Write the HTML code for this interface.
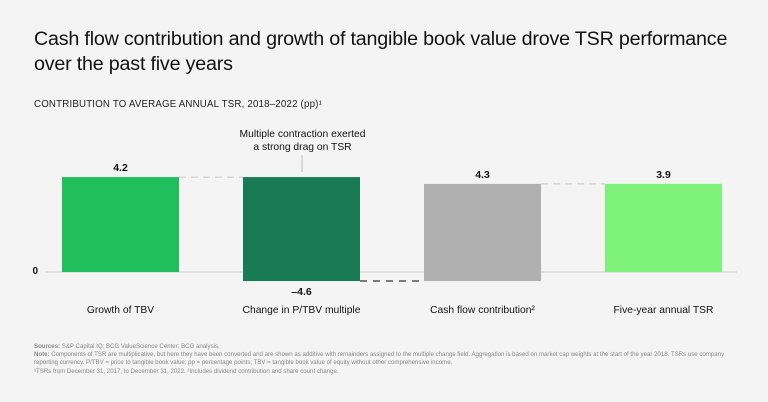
<!DOCTYPE html>
<html><head><meta charset="utf-8"><style>
body{margin:0;background:#f4f4f4;font-family:"Liberation Sans",sans-serif;}
#wrap{position:relative;width:768px;height:402px;overflow:hidden;background:#f4f4f4}
h1{position:absolute;left:34px;top:27px;margin:0;font-weight:normal;font-size:19.7px;line-height:25px;color:#111;letter-spacing:-0.2px}
.sub{position:absolute;left:34px;top:99px;font-size:9.7px;color:#222;letter-spacing:0.2px}
.notes{position:absolute;left:34px;top:343px;font-size:6.1px;line-height:8.2px;color:#888;width:720px}
</style></head><body>
<div id="wrap">
<h1>Cash flow contribution and growth of tangible book value drove TSR performance<br>over the past five years</h1>
<div class="sub">CONTRIBUTION TO AVERAGE ANNUAL TSR, 2018–2022 (pp)¹</div>
<svg id="chart" width="768" height="402" style="position:absolute;left:0;top:0"></svg>
<div class="notes"><b>Sources:</b> S&amp;P Capital IQ; BCG ValueScience Center; BCG analysis.<br><b>Note:</b> Components of TSR are multiplicative, but here they have been converted and are shown as additive with remainders assigned to the multiple change field. Aggregation is based on market cap weights at the start of the year 2018. TSRs use company<br>reporting currency. P/TBV = price to tangible book value; pp = percentage points; TBV = tangible book value of equity without other comprehensive income.<br>¹TSRs from December 31, 2017, to December 31, 2022. ²Includes dividend contribution and share count change.</div>
</div>
<script>
const categories=["Growth of TBV","Change in P/TBV multiple","Cash flow contribution²","Five-year annual TSR"];
const values=[4.2,-4.6,4.3,3.9];
const isTotal=[false,false,false,true];
const labels=["4.2","–4.6","4.3","3.9"];
const colors=["#21bf5b","#197a56","#b0b0b0","#7ef27a"];
const NS="http://www.w3.org/2000/svg";
const svg=document.getElementById('chart');
const zeroY=272, unit=22.6;
const y=v=>zeroY-v*unit;
const barX=i=>62+i*181, barW=117;
function mk(t,a){const e=document.createElementNS(NS,t);for(const k in a)e.setAttribute(k,a[k]);svg.appendChild(e);return e;}
let axis=mk('line',{x1:45,x2:737,y1:zeroY,y2:zeroY,stroke:'#cfcfcf','stroke-width':1});


let zl=mk('text',{x:38,y:zeroY+2,'font-size':10,'font-weight':'bold','text-anchor':'end',fill:'#111','font-family':'Liberation Sans'});
zl.textContent='0';


let run=0;const ends=[];
values.forEach((v,i)=>{
  let a,b;
  if(isTotal[i]){a=0;b=v;}else{a=run;b=run+v;run=b;}
  ends.push(b);
  const top=Math.min(y(a),y(b)),h=Math.abs(y(a)-y(b));
  const r=mk('rect',{x:barX(i),y:top,width:barW,height:h,fill:colors[i]});
  
  
  const vl=mk('text',{x:barX(i)+barW/2,y:v>=0?top-6:top+h+14,'font-size':10.5,'font-weight':'bold','text-anchor':'middle',fill:'#111','font-family':'Liberation Sans'});
  vl.textContent=labels[i];
  
  
  const cl=mk('text',{x:barX(i)+barW/2,y:313,'font-size':10.3,'text-anchor':'middle',fill:'#111','font-family':'Liberation Sans'});
  cl.textContent=categories[i];
  
  
  if(i>0){
    const prev=ends[i-1];const yy=y(prev);
    const neg=prev<0;
    const c=mk('line',{x1:barX(i-1)+barW,x2:barX(i),y1:yy,y2:yy,stroke:neg?'#555':'#c8c8c8','stroke-width':neg?1.5:1,'stroke-dasharray':neg?'7,6':'7,5'});
    
    
  }
});
const an=mk('text',{x:barX(1)+barW/2,y:137,'font-size':10.3,'text-anchor':'middle',fill:'#111','font-family':'Liberation Sans'});
an.innerHTML='<tspan x="'+(barX(1)+barW/2+1)+'" dy="0">Multiple contraction exerted</tspan><tspan x="'+(barX(1)+barW/2+1)+'" dy="13">a strong drag on TSR</tspan>';


const al=mk('line',{x1:302,x2:302,y1:155,y2:172,stroke:'#bbb','stroke-width':1});


</script>
</body></html>
